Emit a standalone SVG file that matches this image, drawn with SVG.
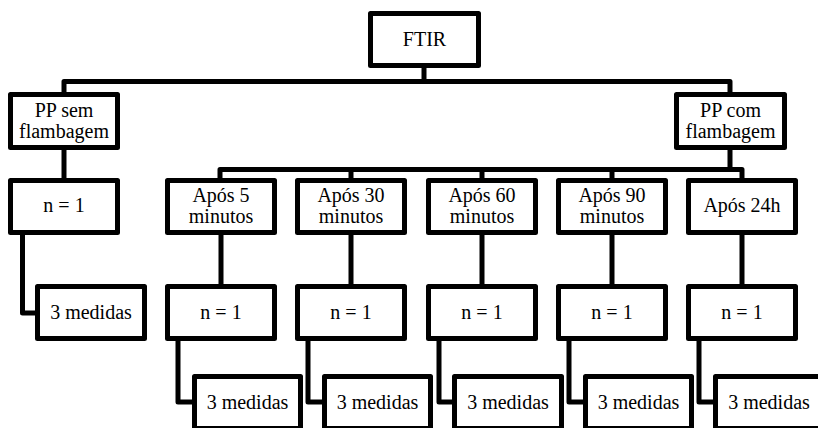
<svg xmlns="http://www.w3.org/2000/svg" width="818" height="428" viewBox="0 0 818 428">
<style>
.box{fill:#fff;stroke:#000;stroke-width:5;stroke-linejoin:round}
.con{fill:none;stroke:#000;stroke-width:5;stroke-linejoin:round}
text{font-size:20px;fill:#000;text-anchor:middle}
</style>
<rect width="818" height="428" fill="#fff"/>
<g id="connectors">
<path class="con" d="M424,66 V81.5 M64,92 V81.5 H730 V92"/>
<path class="con" d="M64,150 V178"/>
<path class="con" d="M22.5,235 V313 H35"/>
<path class="con" d="M730,150 V169.5 M220,178 V169.5 H742 V178 M351,169.5 V178 M482,169.5 V178 M612,169.5 V178"/>
<path class="con" d="M221,235 V284 M351,235 V284 M482,235 V284 M612,235 V284 M742,235 V284"/>
<path class="con" d="M178,341 V402 H192 M308,341 V402 H322 M439,341 V402 H452 M569,341 V402 H583 M699,341 V402 H713"/>
</g>
<g font-family="Liberation Serif, DejaVu Serif, serif">
<g id="ftir"><rect class="box" x="370.5" y="13.5" width="108" height="52"/><text x="424.5" y="46">FTIR</text></g>
<g id="pp-sem"><rect class="box" x="10.5" y="94.5" width="107" height="53"/><text x="64" y="117">PP sem</text><text x="64" y="137.5">flambagem</text></g>
<g id="pp-com"><rect class="box" x="676.5" y="94.5" width="108" height="53"/><text x="730.5" y="117">PP com</text><text x="730.5" y="137.5">flambagem</text></g>
<g id="sem-n1"><rect class="box" x="10.5" y="180.5" width="107" height="52"/><text x="64" y="212">n = 1</text></g>
<g id="sem-medidas"><rect class="box" x="37.5" y="286.5" width="107" height="52"/><text x="91" y="319">3 medidas</text></g>
<g id="apos5"><rect class="box" x="167.5" y="180.5" width="107" height="52"/><text x="221" y="202">Após 5</text><text x="221" y="223">minutos</text></g>
<g id="apos30"><rect class="box" x="297.5" y="180.5" width="107" height="52"/><text x="351" y="202">Após 30</text><text x="351" y="223">minutos</text></g>
<g id="apos60"><rect class="box" x="428.5" y="180.5" width="107" height="52"/><text x="482" y="202">Após 60</text><text x="482" y="223">minutos</text></g>
<g id="apos90"><rect class="box" x="558.5" y="180.5" width="107" height="52"/><text x="612" y="202">Após 90</text><text x="612" y="223">minutos</text></g>
<g id="apos24"><rect class="box" x="688.5" y="180.5" width="107" height="52"/><text x="742" y="212">Após 24h</text></g>
<g id="n1-5"><rect class="box" x="167.5" y="286.5" width="107" height="52"/><text x="221" y="319">n = 1</text></g>
<g id="n1-30"><rect class="box" x="297.5" y="286.5" width="107" height="52"/><text x="351" y="319">n = 1</text></g>
<g id="n1-60"><rect class="box" x="428.5" y="286.5" width="107" height="52"/><text x="482" y="319">n = 1</text></g>
<g id="n1-90"><rect class="box" x="558.5" y="286.5" width="107" height="52"/><text x="612" y="319">n = 1</text></g>
<g id="n1-24"><rect class="box" x="688.5" y="286.5" width="107" height="52"/><text x="742" y="319">n = 1</text></g>
<g id="med-5"><rect class="box" x="194.5" y="376.5" width="106" height="52"/><text x="247.5" y="409">3 medidas</text></g>
<g id="med-30"><rect class="box" x="324.5" y="376.5" width="106" height="52"/><text x="377.5" y="409">3 medidas</text></g>
<g id="med-60"><rect class="box" x="454.5" y="376.5" width="107" height="52"/><text x="508" y="409">3 medidas</text></g>
<g id="med-90"><rect class="box" x="585.5" y="376.5" width="106" height="52"/><text x="638.5" y="409">3 medidas</text></g>
<g id="med-24"><rect class="box" x="715.5" y="376.5" width="107" height="52"/><text x="769" y="409">3 medidas</text></g>
</g>
</svg>
